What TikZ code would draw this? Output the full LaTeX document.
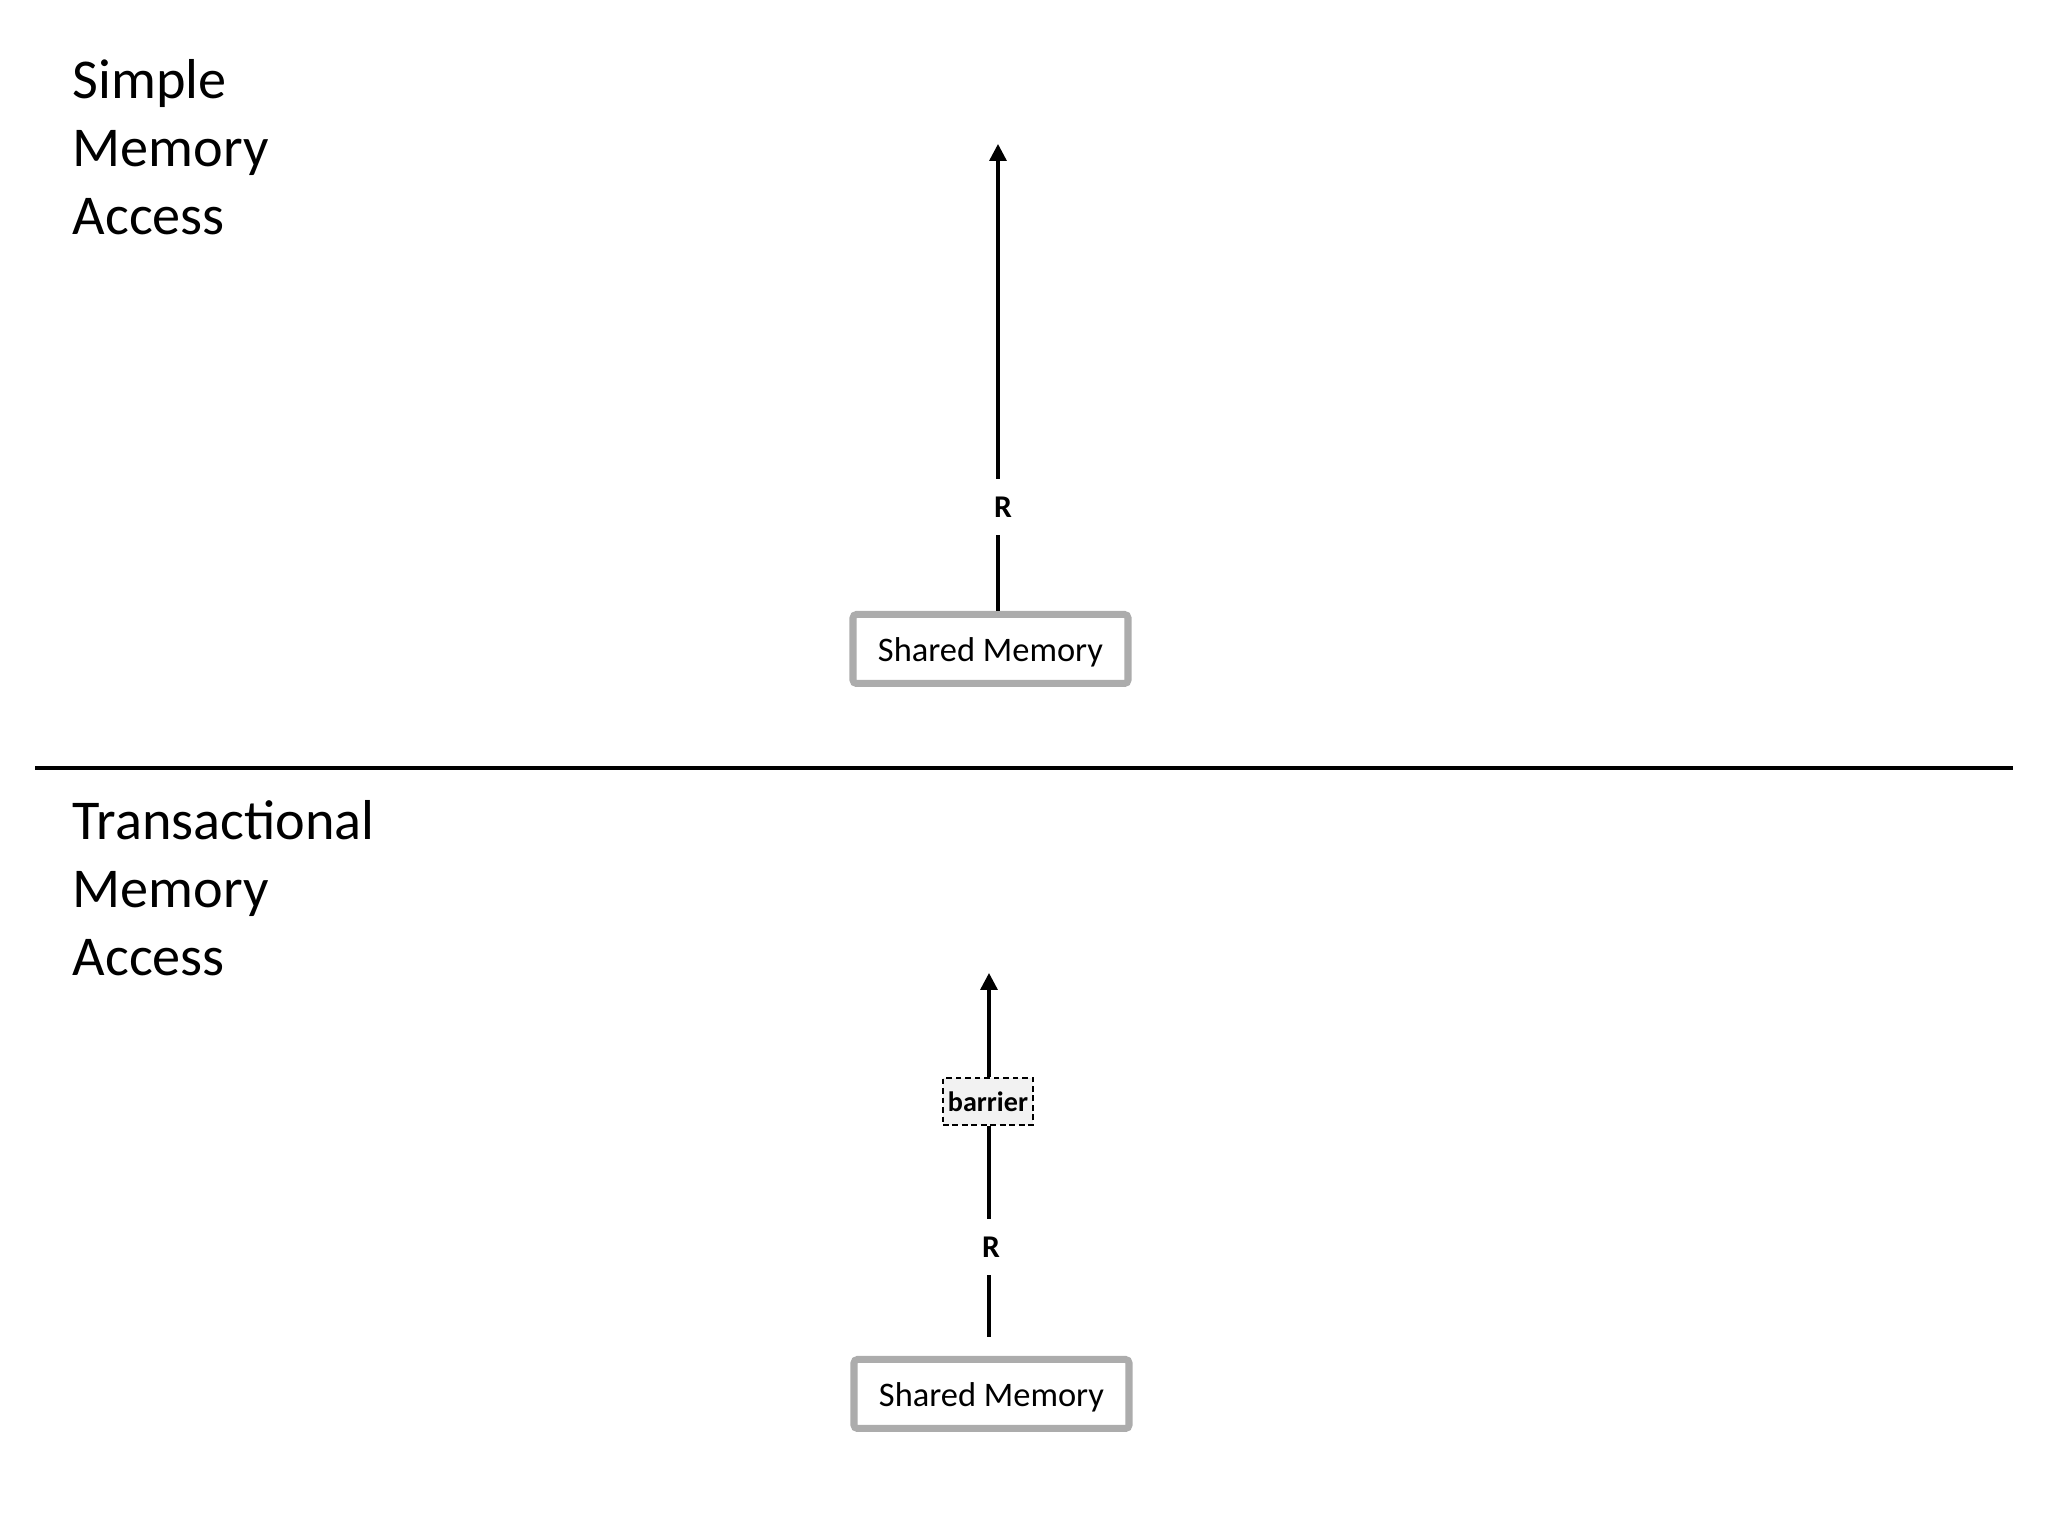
\documentclass[tikz,border=0pt]{standalone}
\usepackage{fontspec}
\setmainfont{Carlito}
\usetikzlibrary{arrows.meta}

\tikzset{
    heading/.style={align=left, anchor=north west, inner sep=0pt, font=\fontsize{16}{19.3}\selectfont},
    memory/.style={draw=gray!65, line width=2pt, rounded corners=1pt, fill=white, minimum width=2.75cm, minimum height=0.69cm, inner sep=0pt, text height=9pt, text depth=2pt, font=\fontsize{9.8}{12}\selectfont},
    rlabel/.style={inner sep=0pt, minimum height=0.55cm, font=\bfseries\fontsize{9}{11}\selectfont},
    barrierbox/.style={draw, dashed, dash pattern=on 1.6pt off 1.1pt, line width=0.6pt, fill=gray!10, minimum width=0.9cm, minimum height=0.47cm, inner sep=0pt, font=\bfseries\fontsize{8}{10}\selectfont},
    access/.style={line width=0.95pt, -{Triangle[width=0.17cm,length=0.17cm]}}
}

\begin{document}
\begin{tikzpicture}
    \useasboundingbox (0,0) rectangle (20.48,15.36);

    % Simple access
    \node[heading] (title1) at (0.72,14.77) {Simple\\Memory\\Access};
    \node[memory] (mem1) at (9.905,8.87) {Shared Memory};
    \node[rlabel] (r1) at (10.03,10.29) {R};
    \coordinate (tip1) at (9.98,13.92);
    \draw[line width=0.95pt] (mem1.north -| tip1) -- (r1.south -| tip1);
    \draw[access] (r1.north -| tip1) -- (tip1);

    % Separator
    \coordinate (sepL) at (0.35,7.68);
    \coordinate (sepR) at (20.13,7.68);
    \draw[line width=1.1pt] (sepL) -- (sepR);

    % Transactional access
    \node[heading] (title2) at (0.72,7.36) {Transactional\\Memory\\Access};
    \node[memory] (mem2) at (9.915,1.42) {Shared Memory};
    \node[rlabel] (r2) at (9.91,2.89) {R};
    \node[barrierbox] (bar) at (9.88,4.345) {barrier};
    \coordinate (tip2) at (9.89,5.63);
    \draw[line width=0.95pt, shorten <=0.19cm] (mem2.north -| tip2) -- (r2.south -| tip2);
    \draw[line width=0.95pt] (r2.north -| tip2) -- (bar.south -| tip2);
    \draw[access] (bar.north -| tip2) -- (tip2);

\end{tikzpicture}
\end{document}
